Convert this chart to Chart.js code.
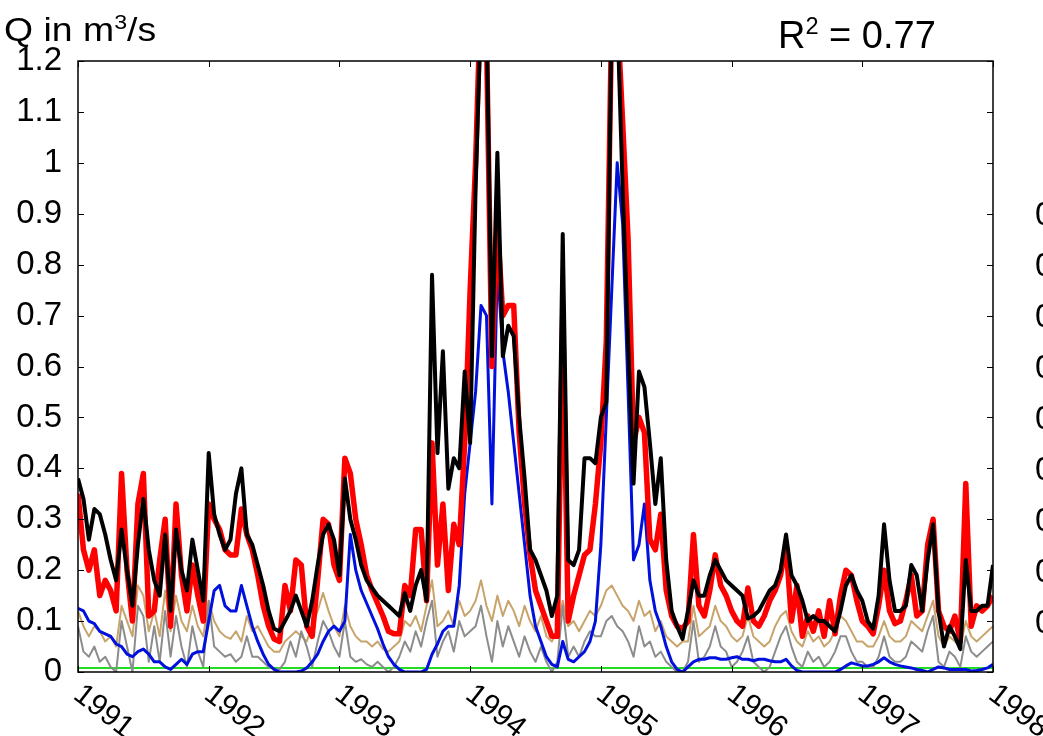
<!DOCTYPE html>
<html>
<head>
<meta charset="utf-8">
<script src="https://cdn.jsdelivr.net/npm/chart.js@4"></script>
<style>
  html, body { margin: 0; padding: 0; background: #fff; overflow: hidden; }
  #wrap { position: relative; width: 1043px; height: 736px; font-family: "Liberation Sans", Arial, sans-serif; overflow: hidden; }
  #grafico { position: absolute; left: 0; top: 0; }
  .txt { position: absolute; color: #000; white-space: nowrap; line-height: 1.15; }
  .txt sup { font-size: 62%; }
</style>
</head>
<body>
<div id="wrap">
  <canvas id="grafico" width="1043" height="736"></canvas>
  <div class="txt" style="left:4px; top:10px; font-size:34px; transform:scaleX(1.1); transform-origin:left top;">Q in m<sup>3</sup>/s</div>
  <div class="txt" style="left:778px; top:13px; font-size:38px;">R<sup>2</sup> = 0.77</div>
  <div class="txt" style="left:1035px; top:195px; font-size:33px;">0.9</div>
  <div class="txt" style="left:1035px; top:246px; font-size:33px;">0.8</div>
  <div class="txt" style="left:1035px; top:297px; font-size:33px;">0.7</div>
  <div class="txt" style="left:1035px; top:348px; font-size:33px;">0.6</div>
  <div class="txt" style="left:1035px; top:399px; font-size:33px;">0.5</div>
  <div class="txt" style="left:1035px; top:450px; font-size:33px;">0.4</div>
  <div class="txt" style="left:1035px; top:501px; font-size:33px;">0.3</div>
  <div class="txt" style="left:1035px; top:552px; font-size:33px;">0.2</div>
  <div class="txt" style="left:1035px; top:603px; font-size:33px;">0.1</div>
</div>
<script>
// semi-monthly steps, 1991 .. 1998
const anoInicio = 1991;
const passosPorAno = 24;
const anos = [1991, 1992, 1993, 1994, 1995, 1996, 1997, 1998];

// observed (black)
const observado = [
  0.38, 0.34, 0.26, 0.32, 0.31, 0.27, 0.22, 0.18, 0.28, 0.20, 0.13, 0.25, 0.34, 0.24, 0.18, 0.15, 0.27, 0.12, 0.28, 0.20, 0.16, 0.26, 0.20, 0.14,
  0.43, 0.31, 0.27, 0.24, 0.26, 0.35, 0.40, 0.27, 0.25, 0.21, 0.17, 0.12, 0.085, 0.08, 0.10, 0.12, 0.15, 0.12, 0.09, 0.14, 0.21, 0.27, 0.29, 0.26,
  0.19, 0.38, 0.30, 0.26, 0.21, 0.18, 0.165, 0.15, 0.14, 0.13, 0.12, 0.11, 0.155, 0.12, 0.17, 0.20, 0.14, 0.78, 0.43, 0.63, 0.36, 0.42, 0.40, 0.59,
  0.45, 0.95, 1.3, 1.3, 0.62, 1.02, 0.62, 0.68, 0.66, 0.50, 0.38, 0.24, 0.22, 0.19, 0.16, 0.11, 0.15, 0.86, 0.22, 0.21, 0.24, 0.42, 0.42, 0.41,
  0.50, 0.53, 1.3, 1.3, 0.95, 0.65, 0.37, 0.59, 0.56, 0.45, 0.33, 0.42, 0.22, 0.12, 0.09, 0.065, 0.12, 0.18, 0.15, 0.15, 0.19, 0.22, 0.20, 0.18,
  0.17, 0.16, 0.15, 0.105, 0.11, 0.12, 0.14, 0.16, 0.17, 0.20, 0.27, 0.19, 0.17, 0.14, 0.10, 0.11, 0.10, 0.10, 0.09, 0.08, 0.12, 0.17, 0.19, 0.16,
  0.14, 0.10, 0.085, 0.15, 0.29, 0.18, 0.12, 0.12, 0.13, 0.21, 0.19, 0.12, 0.22, 0.29, 0.12, 0.05, 0.09, 0.07, 0.045, 0.22, 0.12, 0.12, 0.13, 0.13,
  0.21
];

// simulated total (red)
const simulado = [
  0.35, 0.24, 0.20, 0.24, 0.15, 0.18, 0.16, 0.12, 0.39, 0.20, 0.10, 0.33, 0.39, 0.11, 0.12, 0.22, 0.30, 0.09, 0.33, 0.19, 0.12, 0.21, 0.15, 0.10,
  0.33, 0.30, 0.28, 0.24, 0.23, 0.23, 0.32, 0.27, 0.24, 0.19, 0.13, 0.09, 0.065, 0.06, 0.17, 0.12, 0.22, 0.21, 0.09, 0.07, 0.18, 0.30, 0.29, 0.21,
  0.18, 0.42, 0.39, 0.30, 0.25, 0.19, 0.16, 0.135, 0.11, 0.08, 0.075, 0.075, 0.17, 0.15, 0.28, 0.28, 0.14, 0.45, 0.21, 0.33, 0.16, 0.29, 0.25, 0.45,
  0.75, 1.0, 1.35, 1.25, 0.60, 0.88, 0.70, 0.72, 0.72, 0.47, 0.33, 0.23, 0.16, 0.13, 0.10, 0.07, 0.07, 0.70, 0.10, 0.15, 0.19, 0.23, 0.24, 0.33,
  0.45, 0.65, 1.3, 1.3, 1.08, 0.85, 0.45, 0.50, 0.47, 0.26, 0.24, 0.31, 0.16, 0.11, 0.09, 0.085, 0.10, 0.27, 0.13, 0.11, 0.16, 0.23, 0.17, 0.15,
  0.12, 0.10, 0.09, 0.165, 0.10, 0.09, 0.11, 0.14, 0.16, 0.19, 0.25, 0.10, 0.17, 0.07, 0.11, 0.08, 0.12, 0.07, 0.14, 0.075, 0.15, 0.20, 0.19, 0.14,
  0.10, 0.09, 0.075, 0.13, 0.20, 0.12, 0.095, 0.10, 0.14, 0.19, 0.11, 0.12, 0.25, 0.30, 0.12, 0.09, 0.08, 0.11, 0.06, 0.37, 0.09, 0.13, 0.12, 0.13,
  0.15
];

// surface runoff (blue)
const superficial = [
  0.125, 0.12, 0.10, 0.095, 0.08, 0.075, 0.07, 0.055, 0.05, 0.035, 0.03, 0.04, 0.045, 0.035, 0.02, 0.02, 0.01, 0.005, 0.015, 0.025, 0.015, 0.035, 0.04, 0.04,
  0.10, 0.16, 0.17, 0.13, 0.12, 0.12, 0.17, 0.13, 0.09, 0.06, 0.035, 0.015, 0.005, 0, 0, 0, 0, 0.002, 0.008, 0.02, 0.035, 0.06, 0.08, 0.09,
  0.08, 0.10, 0.27, 0.20, 0.16, 0.135, 0.11, 0.085, 0.055, 0.03, 0.015, 0.005, 0, 0, 0, 0, 0.005, 0.035, 0.055, 0.08, 0.09, 0.09, 0.17, 0.35,
  0.45, 0.55, 0.72, 0.70, 0.33, 0.80, 0.63, 0.55, 0.45, 0.35, 0.25, 0.15, 0.09, 0.06, 0.03, 0.015, 0.01, 0.06, 0.025, 0.02, 0.03, 0.04, 0.06, 0.10,
  0.25, 0.50, 0.75, 1.0, 0.88, 0.55, 0.22, 0.25, 0.33, 0.18, 0.12, 0.09, 0.05, 0.02, 0.005, 0, 0.01, 0.02, 0.025, 0.025, 0.028, 0.028, 0.025, 0.025,
  0.028, 0.03, 0.025, 0.025, 0.022, 0.025, 0.025, 0.022, 0.02, 0.02, 0.025, 0.012, 0.003, 0, 0, 0, 0, 0, 0, 0, 0.005, 0.012, 0.018, 0.015,
  0.012, 0.012, 0.015, 0.02, 0.028, 0.02, 0.015, 0.012, 0.01, 0.008, 0.005, 0.003, 0, 0.005, 0.01, 0.008, 0.005, 0.005, 0.005, 0.005, 0.002, 0.003, 0.005, 0.008,
  0.015
];

// interflow (tan)
const subsuperficial = [
  0.12, 0.09, 0.07, 0.09, 0.08, 0.06, 0.07, 0.05, 0.13, 0.10, 0.07, 0.17, 0.15, 0.08, 0.12, 0.07, 0.16, 0.08, 0.15, 0.10, 0.08, 0.13, 0.09, 0.07,
  0.14, 0.10, 0.08, 0.07, 0.065, 0.08, 0.06, 0.11, 0.08, 0.09, 0.07, 0.05, 0.04, 0.04, 0.06, 0.07, 0.08, 0.07, 0.06, 0.09, 0.12, 0.155, 0.12, 0.09,
  0.07, 0.13, 0.09, 0.07, 0.06, 0.06, 0.05, 0.06, 0.045, 0.04, 0.05, 0.06, 0.10, 0.09, 0.11, 0.08, 0.13, 0.18, 0.09, 0.10, 0.12, 0.09, 0.14, 0.11,
  0.12, 0.14, 0.18, 0.13, 0.10, 0.15, 0.11, 0.14, 0.12, 0.09, 0.13, 0.10, 0.08, 0.11, 0.07, 0.06, 0.08, 0.14, 0.09, 0.10, 0.08, 0.10, 0.12, 0.11,
  0.13, 0.16, 0.17, 0.15, 0.13, 0.12, 0.10, 0.14, 0.11, 0.12, 0.08, 0.10, 0.07, 0.06, 0.05, 0.06, 0.06, 0.13, 0.07, 0.08, 0.09, 0.13, 0.10, 0.09,
  0.07, 0.06, 0.07, 0.11, 0.07, 0.06, 0.05, 0.06, 0.09, 0.11, 0.12, 0.08, 0.06, 0.05, 0.08, 0.06, 0.07, 0.05, 0.06, 0.08, 0.11, 0.10, 0.08, 0.06,
  0.06, 0.05, 0.05, 0.07, 0.10, 0.07, 0.06, 0.06, 0.07, 0.10, 0.09, 0.08, 0.11, 0.14, 0.07, 0.05, 0.07, 0.06, 0.05, 0.10, 0.07, 0.06, 0.07, 0.08,
  0.09
];

// baseflow (grey)
const base = [
  0.09, 0.04, 0.03, 0.05, 0.02, 0.03, 0.01, 0.00, 0.10, 0.05, 0.00, 0.13, 0.11, 0.02, 0.09, 0.02, 0.12, 0.03, 0.11, 0.05, 0.01, 0.09, 0.04, 0.01,
  0.14, 0.05, 0.04, 0.03, 0.035, 0.02, 0.03, 0.07, 0.03, 0.03, 0.02, 0.01, 0.005, 0.005, 0.02, 0.06, 0.03, 0.08, 0.05, 0.01, 0.06, 0.10, 0.08, 0.05,
  0.03, 0.10, 0.03, 0.02, 0.025, 0.015, 0.01, 0.02, 0.01, 0.0, 0.01, 0.03, 0.06, 0.04, 0.08, 0.05, 0.10, 0.14, 0.03, 0.06, 0.08, 0.04, 0.10, 0.07,
  0.08, 0.09, 0.13, 0.07, 0.02, 0.10, 0.05, 0.09, 0.06, 0.03, 0.07, 0.04, 0.02, 0.05, 0.02, 0.0, 0.02, 0.13, 0.03, 0.05, 0.03, 0.06, 0.08, 0.07,
  0.07, 0.10, 0.11, 0.09, 0.08, 0.06, 0.03, 0.09, 0.05, 0.06, 0.03, 0.04, 0.02, 0.01, 0.0, 0.0, 0.02, 0.10, 0.02, 0.03, 0.05, 0.09, 0.05, 0.04,
  0.01, 0.02, 0.04, 0.07, 0.02, 0.01, 0.0, 0.01, 0.04, 0.07, 0.09, 0.05, 0.02, 0.01, 0.04, 0.02, 0.03, 0.01, 0.02, 0.04, 0.07, 0.07, 0.04, 0.02,
  0.02, 0.01, 0.01, 0.03, 0.07, 0.03, 0.02, 0.02, 0.03, 0.06, 0.05, 0.04, 0.08, 0.11, 0.02, 0.01, 0.04, 0.03, 0.01, 0.07, 0.04, 0.03, 0.04, 0.05,
  0.06
];

// constant component (green)
const constante = [0.008, 0.008];
const tempoConstante = [1991, 1998];

function pontos(valores) {
    return valores.map((v, i) => ({ x: anoInicio + i / passosPorAno, y: v }));
}

function serie(nome, valores, cor, largura) {
    return {
        label: nome,
        data: pontos(valores),
        borderColor: cor,
        borderWidth: largura,
        pointRadius: 0,
        tension: 0,
        fill: false,
        clip: 0,
        borderJoinStyle: 'round'
    };
}

// frame, inward ticks and rotated year labels
const moldura = {
    id: 'moldura',
    afterDraw(chart) {
        const ctx = chart.ctx;
        const a = chart.chartArea;
        const sx = chart.scales.x;
        const sy = chart.scales.y;
        ctx.save();
        ctx.strokeStyle = '#000';
        ctx.lineWidth = 1.5;
        ctx.strokeRect(a.left, a.top, a.right - a.left, a.bottom - a.top);
        ctx.lineWidth = 1;
        ctx.beginPath();
        sy.ticks.forEach(t => {
            const py = Math.round(sy.getPixelForValue(t.value)) + 0.5;
            ctx.moveTo(a.left, py); ctx.lineTo(a.left + 6, py);
            ctx.moveTo(a.right, py); ctx.lineTo(a.right - 6, py);
        });
        anos.forEach(ano => {
            const px = Math.round(sx.getPixelForValue(ano)) + 0.5;
            ctx.moveTo(px, a.bottom); ctx.lineTo(px, a.bottom - 6);
            ctx.moveTo(px, a.top); ctx.lineTo(px, a.top + 6);
        });
        ctx.stroke();
        ctx.fillStyle = '#000';
        ctx.font = '30px "Liberation Sans", Arial, sans-serif';
        ctx.textAlign = 'left';
        ctx.textBaseline = 'middle';
        anos.forEach(ano => {
            const px = sx.getPixelForValue(ano);
            ctx.save();
            ctx.translate(px - 1, a.bottom + 19);
            ctx.rotate(38 * Math.PI / 180);
            ctx.fillText(String(ano), 0, 0);
            ctx.restore();
        });
        ctx.restore();
    }
};

function inicializarGrafico() {
    const ctx = document.getElementById('grafico').getContext('2d');
    const verde = serie('constante', constante, '#22dd22', 2);
    verde.data = constante.map((v, i) => ({ x: tempoConstante[i], y: v }));

    new Chart(ctx, {
        type: 'line',
        data: {
            datasets: [
                serie('observado', observado, '#000000', 4),
                serie('simulado', simulado, '#ff0000', 5.5),
                serie('superficial', superficial, '#0010dd', 3),
                serie('base', base, '#8c8c8c', 2),
                serie('subsuperficial', subsuperficial, '#c8a46c', 2),
                verde
            ]
        },
        options: {
            responsive: false,
            animation: false,
            layout: { padding: { left: 0, right: 50, top: 61, bottom: 0 } },
            plugins: { legend: { display: false }, tooltip: { enabled: false } },
            scales: {
                x: {
                    type: 'linear',
                    min: 1991,
                    max: 1998,
                    grid: { display: false },
                    border: { display: false },
                    ticks: { display: false, stepSize: 1 },
                    afterFit(scale) { scale.height = 64; }
                },
                y: {
                    min: 0,
                    max: 1.2,
                    grid: { display: false },
                    border: { display: false },
                    ticks: {
                        stepSize: 0.1,
                        padding: 8,
                        color: '#000',
                        font: { family: '"Liberation Sans", Arial, sans-serif', size: 33 },
                        callback: v => String(Math.round(v * 10) / 10)
                    },
                    afterFit(scale) { scale.width = 78; }
                }
            }
        },
        plugins: [moldura]
    });
}

document.addEventListener('DOMContentLoaded', inicializarGrafico);
</script>
</body>
</html>
